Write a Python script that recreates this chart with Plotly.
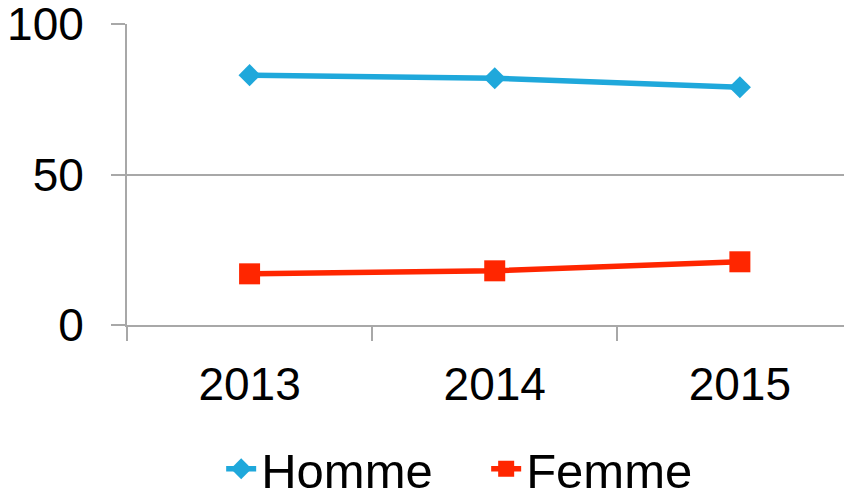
import plotly.graph_objects as go

years = ["2013", "2014", "2015"]
homme = [83, 82, 79]
femme = [17, 18, 21]
y_ticks = [0, 50, 100]

FONT = "Liberation Sans, Arial, sans-serif"
GRID = "#A8A8A8"

fig = go.Figure()
fig.add_trace(go.Scatter(
    x=years, y=homme, name="Homme", mode="lines+markers",
    line=dict(color="#1FA8DB", width=5.5),
    marker=dict(symbol="diamond", size=17, color="#1FA8DB"),
))
fig.add_trace(go.Scatter(
    x=years, y=femme, name="Femme", mode="lines+markers",
    line=dict(color="#FF2600", width=5.5),
    marker=dict(symbol="square", size=21, color="#FF2600"),
))

fig.update_layout(
    width=852, height=494,
    margin=dict(l=119, r=0, t=16, b=177, autoexpand=False),
    paper_bgcolor="white", plot_bgcolor="white",
    font=dict(family=FONT, size=46, color="black"),
    showlegend=True,
    legend=dict(
        orientation="h", x=0.49, xanchor="center",
        y=-0.478, yanchor="middle",
        entrywidth=220,
        font=dict(family=FONT, size=49, color="black"),
        bgcolor="rgba(0,0,0,0)",
    ),
)
fig.update_xaxes(
    type="category", range=[-0.5, 2.49], automargin=False,
    tickson="boundaries", ticks="outside", ticklen=14, tickwidth=2, tickcolor=GRID,
    showline=True, linecolor=GRID, linewidth=2,
    showgrid=False, zeroline=False,
    tickfont=dict(family=FONT, size=46, color="black"),
    ticklabelstandoff=18, ticklabeloverflow="allow",
)
fig.update_yaxes(
    range=[0, 100], tickvals=y_ticks, ticktext=[str(v) for v in y_ticks],
    automargin=False,
    ticks="outside", ticklen=14, tickwidth=2, tickcolor=GRID,
    showline=True, linecolor=GRID, linewidth=2,
    showgrid=True, gridcolor=GRID, gridwidth=2, zeroline=False,
    tickfont=dict(family=FONT, size=46, color="black"),
    ticklabelstandoff=18, ticklabeloverflow="allow",
)

fig.write_html("out.html")
